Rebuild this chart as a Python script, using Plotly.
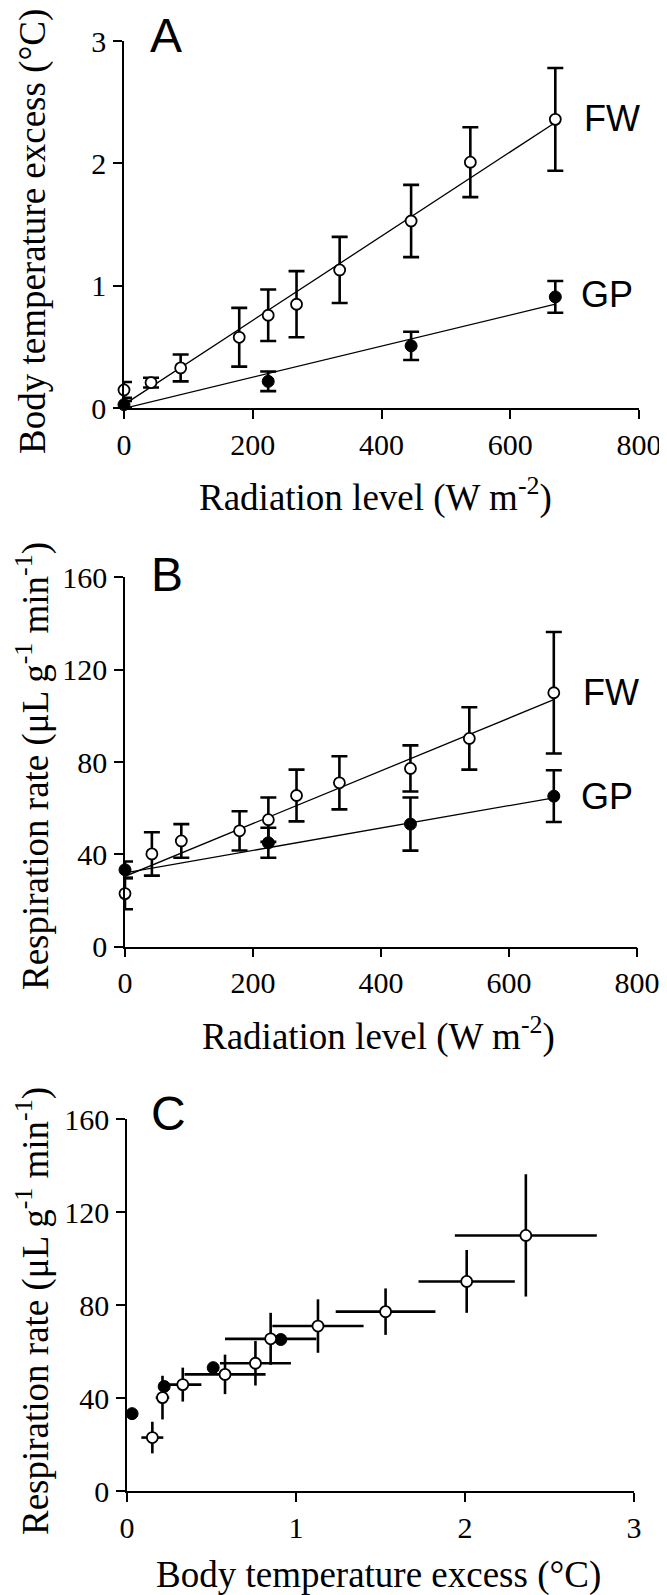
import plotly.graph_objects as go

# ---------------- data ----------------
# FW group (open circles)
rad_fw = [0, 42, 88, 179, 224, 268, 335, 446, 538, 670]
temp_fw = [0.15, 0.21, 0.33, 0.58, 0.76, 0.85, 1.13, 1.53, 2.01, 2.36]
temp_fw_err = [0.065, 0.04, 0.11, 0.24, 0.21, 0.27, 0.27, 0.295, 0.285, 0.42]
resp_fw = [23, 40.2, 45.8, 50.2, 55, 65.5, 71, 77.2, 90.2, 110]
resp_fw_err = [6.8, 9.4, 7.3, 8.5, 9.6, 11.2, 11.5, 10, 13.5, 26.3]

# GP group (filled circles)
rad_gp = [0, 224, 446, 670]
temp_gp = [0.03, 0.22, 0.51, 0.91]
temp_gp_err = [0.03, 0.08, 0.115, 0.13]
resp_gp = [33.3, 45, 53.1, 65.2]
resp_gp_err = [3.6, 6.5, 11.5, 11.2]

# regression lines (end points)
fit_rad = [0, 670]
fitA_fw = [0.03, 2.335]
fitA_gp = [0.0, 0.85]
fitB_fw = [30.5, 107]
fitB_gp = [32, 64.5]

# axis ticks
rad_ticks = [0, 200, 400, 600, 800]
temp_ticks = [0, 1, 2, 3]
resp_ticks = [0, 40, 80, 120, 160]

# ---------------- layout helpers ----------------
# the page body adds an 8 px margin, so the figure is made 8 px smaller
OFF = 8
W, H = 667 - OFF, 1595 - OFF
SERIF = "Liberation Serif, Times New Roman, serif"
SANS = "Liberation Sans, Arial, sans-serif"


def px_x(x):
    return (x - OFF) / W


def px_y(y):
    return 1 - (y - OFF) / H


fig = go.Figure()

open_marker = dict(symbol="circle", size=11, color="white", line=dict(color="black", width=1.8))
fill_marker = dict(symbol="circle", size=12, color="black", line=dict(color="black", width=1))
cap_err = dict(type="data", color="black", thickness=2.6, width=8, visible=True)
line_style = dict(color="black", width=1.3)

# Panel A
fig.add_trace(go.Scatter(x=fit_rad, y=fitA_fw, mode="lines", line=line_style, xaxis="x", yaxis="y",
                         showlegend=False, cliponaxis=False))
fig.add_trace(go.Scatter(x=fit_rad, y=fitA_gp, mode="lines", line=line_style, xaxis="x", yaxis="y",
                         showlegend=False, cliponaxis=False))
fig.add_trace(go.Scatter(x=rad_fw, y=temp_fw, mode="markers", marker=open_marker,
                         error_y=dict(array=temp_fw_err, **cap_err), xaxis="x", yaxis="y",
                         showlegend=False, cliponaxis=False, name="FW"))
fig.add_trace(go.Scatter(x=rad_gp, y=temp_gp, mode="markers", marker=fill_marker,
                         error_y=dict(array=temp_gp_err, **cap_err), xaxis="x", yaxis="y",
                         showlegend=False, cliponaxis=False, name="GP"))

# Panel B
fig.add_trace(go.Scatter(x=fit_rad, y=fitB_fw, mode="lines", line=line_style, xaxis="x2", yaxis="y2",
                         showlegend=False, cliponaxis=False))
fig.add_trace(go.Scatter(x=fit_rad, y=fitB_gp, mode="lines", line=line_style, xaxis="x2", yaxis="y2",
                         showlegend=False, cliponaxis=False))
fig.add_trace(go.Scatter(x=rad_fw, y=resp_fw, mode="markers", marker=open_marker,
                         error_y=dict(array=resp_fw_err, **cap_err), xaxis="x2", yaxis="y2",
                         showlegend=False, cliponaxis=False, name="FW"))
fig.add_trace(go.Scatter(x=rad_gp, y=resp_gp, mode="markers", marker=fill_marker,
                         error_y=dict(array=resp_gp_err, **cap_err), xaxis="x2", yaxis="y2",
                         showlegend=False, cliponaxis=False, name="GP"))

# Panel C
bar_err = dict(type="data", color="black", thickness=2.6, width=0, visible=True)
fig.add_trace(go.Scatter(x=temp_gp, y=resp_gp, mode="markers", marker=fill_marker,
                         xaxis="x3", yaxis="y3", showlegend=False, cliponaxis=False, name="GP"))
fig.add_trace(go.Scatter(x=temp_fw, y=resp_fw, mode="markers", marker=open_marker,
                         error_x=dict(array=temp_fw_err, **bar_err),
                         error_y=dict(array=resp_fw_err, **bar_err),
                         xaxis="x3", yaxis="y3", showlegend=False, cliponaxis=False, name="FW"))

axis_common = dict(showgrid=False, zeroline=False, showline=True, linecolor="black", linewidth=1.5,
                   ticks="outside", ticklen=9, tickwidth=1.5, tickcolor="black", automargin=False,
                   tickfont=dict(family=SERIF, size=30, color="black"), fixedrange=True)
xstyle = dict(ticklabelstandoff=0, **axis_common)
ystyle = dict(ticklabelstandoff=1, **axis_common)

fig.update_layout(
    width=W, height=H, autosize=False,
    margin=dict(l=0, r=0, t=0, b=0, pad=0, autoexpand=False),
    paper_bgcolor="white", plot_bgcolor="white",
    showlegend=False,
    xaxis=dict(domain=[px_x(124), px_x(639)], range=[0, 800], tickvals=rad_ticks, anchor="y", **xstyle),
    yaxis=dict(domain=[px_y(408.3), px_y(41)], range=[0, 3], tickvals=temp_ticks, anchor="x", **ystyle),
    xaxis2=dict(domain=[px_x(125), px_x(637)], range=[0, 800], tickvals=rad_ticks, anchor="y2", **xstyle),
    yaxis2=dict(domain=[px_y(946.7), px_y(577.3)], range=[0, 160], tickvals=resp_ticks, anchor="x2", **ystyle),
    xaxis3=dict(domain=[px_x(127), px_x(634)], range=[0, 3], tickvals=temp_ticks, anchor="y3", **xstyle),
    yaxis3=dict(domain=[px_y(1491), px_y(1119.3)], range=[0, 160], tickvals=resp_ticks, anchor="x3", **ystyle),
)


def ann(text, x, y, font, size, angle=0, height=None):
    fig.add_annotation(text=text, x=px_x(x), y=px_y(y), xref="paper", yref="paper",
                       xanchor="center", yanchor="middle", showarrow=False, textangle=angle,
                       height=height, valign="middle",
                       font=dict(family=font, size=size, color="black"))


resp_title = "Respiration rate (\u03bcL g<sup>-1</sup> min<sup>-1</sup>)"
rad_title = "Radiation level (W m<sup>-2</sup>)"
temp_title = "Body temperature excess (\u00b0C)"

# axis titles
ann(temp_title, 33, 232, SERIF, 37, -90)
ann(rad_title, 375, 495, SERIF, 37)
ann(resp_title, 33, 766, SERIF, 37, -90)
ann(rad_title, 378, 1034, SERIF, 37)
ann(resp_title, 33, 1311, SERIF, 37, -90)
ann(temp_title, 378, 1575, SERIF, 37)

# panel letters
ann("A", 166, 35, SANS, 48, height=38)
ann("B", 167, 574, SANS, 48, height=38)
ann("C", 168, 1113, SANS, 48, height=38)

# group labels
ann("FW", 612, 118, SANS, 36)
ann("GP", 607, 294, SANS, 36)
ann("FW", 611, 692, SANS, 36)
ann("GP", 607, 796, SANS, 36)

fig.write_html("out.html", config={"responsive": False})
